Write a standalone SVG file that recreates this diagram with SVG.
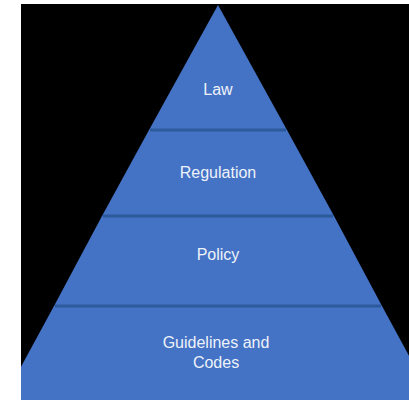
<svg xmlns="http://www.w3.org/2000/svg" width="409" height="400" viewBox="0 0 409 400">
<style>
.lbl{font-family:"Liberation Sans",Arial,sans-serif;font-size:16px;fill:#eef2fa;text-anchor:middle}
.div{stroke:#2d5a9c;stroke-width:3}
</style>
<defs>
<clipPath id="c"><rect x="21" y="4" width="388" height="396"/></clipPath>
</defs>
<rect x="0" y="0" width="409" height="400" fill="#ffffff"/>
<rect x="21" y="4" width="388" height="396" fill="#000000"/>
<g clip-path="url(#c)">
<g id="law"><polygon points="218,5 287,130 149,130" fill="#4472c4"/><text class="lbl" x="218" y="95">Law</text></g>
<g id="regulation"><polygon points="149,130 287,130 334,216 102,216" fill="#4472c4"/><text class="lbl" x="218" y="178">Regulation</text></g>
<g id="policy"><polygon points="102,216 334,216 382,306 54,306" fill="#4472c4"/><text class="lbl" x="218" y="260">Policy</text></g>
<g id="guidelines"><polygon points="54,306 382,306 433,400 3,400" fill="#4472c4"/><text class="lbl" x="216" y="348">Guidelines and</text><text class="lbl" x="216" y="368">Codes</text></g>
</g>
<g id="connectors">
<line class="div" x1="150" y1="130" x2="286" y2="130"/>
<line class="div" x1="103" y1="216" x2="333" y2="216"/>
<line class="div" x1="55" y1="306" x2="381" y2="306"/>
</g>
</svg>
